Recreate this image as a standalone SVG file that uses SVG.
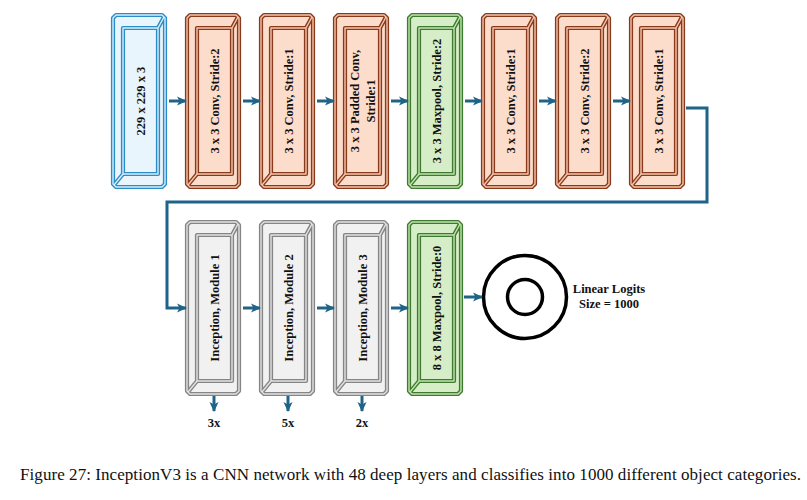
<svg xmlns="http://www.w3.org/2000/svg" xmlns:xlink="http://www.w3.org/1999/xlink" width="807" height="500" viewBox="0 0 807 500">
<style>
  .lbl{font-family:"Liberation Serif","Times New Roman",serif;font-weight:bold;font-size:12.5px;fill:#111;}
  .cap{font-family:"Liberation Serif","Times New Roman",serif;font-size:17px;fill:#111;}
  use.a{stroke-width:4.2;stroke-linejoin:round;}
  use.b{fill:none;stroke-width:1.4;stroke-linejoin:round;}
  .blue use.a{fill:#e9f5fc;stroke:#2c8cc7;}
  .blue use.b{stroke:#d6eefa;}
  .conv use.a{fill:#fcdccb;stroke:#8a3a1a;}
  .conv use.b{stroke:#f4c6ae;}
  .pool use.a{fill:#d6eec7;stroke:#3e7b30;}
  .pool use.b{stroke:#c2e3ae;}
  .inc use.a{fill:#f1f1f1;stroke:#858585;}
  .inc use.b{stroke:#e2e2e2;}
  .con{fill:none;stroke:#1f6389;stroke-width:3;}
</style>
<defs>
  <path id="fr" d="M3,0 H49 L52,3 V169 L49,172 H3 L0,169 V3 Z M10,13 H45 V159 H10 Z M45,13 L51,2 M10,159 L1,170"/>
  <marker id="ah" viewBox="0 0 10 10" refX="9" refY="5" markerWidth="10" markerHeight="10" markerUnits="userSpaceOnUse" orient="auto">
    <path d="M0,0.5 L10,5 L0,9.5 L2.5,5 Z" fill="#1f6389"/>
  </marker>
</defs>

<g id="n1" class="blue" transform="translate(113,15)"><use href="#fr" class="a"/><use href="#fr" class="b"/>
  <text class="lbl" transform="translate(28,86) rotate(-90)" text-anchor="middle" dominant-baseline="central">229 x 229 x 3</text></g>
<g id="n2" class="conv" transform="translate(187,15)"><use href="#fr" class="a"/><use href="#fr" class="b"/>
  <text class="lbl" transform="translate(28,86) rotate(-90)" text-anchor="middle" dominant-baseline="central">3 x 3 Conv, Stride:2</text></g>
<g id="n3" class="conv" transform="translate(261,15)"><use href="#fr" class="a"/><use href="#fr" class="b"/>
  <text class="lbl" transform="translate(28,86) rotate(-90)" text-anchor="middle" dominant-baseline="central">3 x 3 Conv, Stride:1</text></g>
<g id="n4" class="conv" transform="translate(335,15)"><use href="#fr" class="a"/><use href="#fr" class="b"/>
  <text class="lbl" transform="translate(28,86) rotate(-90)" text-anchor="middle" dominant-baseline="central"><tspan x="0" dy="-8">3 x 3 Padded Conv,</tspan><tspan x="0" dy="16">Stride:1</tspan></text></g>
<g id="n5" class="pool" transform="translate(409,15)"><use href="#fr" class="a"/><use href="#fr" class="b"/>
  <text class="lbl" transform="translate(28,86) rotate(-90)" text-anchor="middle" dominant-baseline="central">3 x 3 Maxpool, Stride:2</text></g>
<g id="n6" class="conv" transform="translate(483,15)"><use href="#fr" class="a"/><use href="#fr" class="b"/>
  <text class="lbl" transform="translate(28,86) rotate(-90)" text-anchor="middle" dominant-baseline="central">3 x 3 Conv, Stride:1</text></g>
<g id="n7" class="conv" transform="translate(557,15)"><use href="#fr" class="a"/><use href="#fr" class="b"/>
  <text class="lbl" transform="translate(28,86) rotate(-90)" text-anchor="middle" dominant-baseline="central">3 x 3 Conv, Stride:2</text></g>
<g id="n8" class="conv" transform="translate(631,15)"><use href="#fr" class="a"/><use href="#fr" class="b"/>
  <text class="lbl" transform="translate(28,86) rotate(-90)" text-anchor="middle" dominant-baseline="central">3 x 3 Conv, Stride:1</text></g>

<g id="n9" class="inc" transform="translate(187,222)"><use href="#fr" class="a"/><use href="#fr" class="b"/>
  <text class="lbl" transform="translate(28,86) rotate(-90)" text-anchor="middle" dominant-baseline="central">Inception, Module 1</text></g>
<g id="n10" class="inc" transform="translate(261,222)"><use href="#fr" class="a"/><use href="#fr" class="b"/>
  <text class="lbl" transform="translate(28,86) rotate(-90)" text-anchor="middle" dominant-baseline="central">Inception, Module 2</text></g>
<g id="n11" class="inc" transform="translate(335,222)"><use href="#fr" class="a"/><use href="#fr" class="b"/>
  <text class="lbl" transform="translate(28,86) rotate(-90)" text-anchor="middle" dominant-baseline="central">Inception, Module 3</text></g>
<g id="n12" class="pool" transform="translate(409,222)"><use href="#fr" class="a"/><use href="#fr" class="b"/>
  <text class="lbl" transform="translate(28,86) rotate(-90)" text-anchor="middle" dominant-baseline="central">8 x 8 Maxpool, Stride:0</text></g>

<g id="n13">
  <circle cx="525" cy="297" r="41.5" fill="#fff" stroke="#000" stroke-width="3.5"/>
  <circle cx="525" cy="297" r="17.5" fill="#fff" stroke="#000" stroke-width="3.5"/>
  <text class="lbl" x="609" y="293" text-anchor="middle">Linear Logits</text>
  <text class="lbl" x="609" y="308" text-anchor="middle">Size = 1000</text>
</g>

<g id="connectors">
  <line class="con" x1="169" y1="101" x2="186" y2="101" marker-end="url(#ah)"/>
  <line class="con" x1="243" y1="101" x2="260" y2="101" marker-end="url(#ah)"/>
  <line class="con" x1="317" y1="101" x2="334" y2="101" marker-end="url(#ah)"/>
  <line class="con" x1="391" y1="101" x2="408" y2="101" marker-end="url(#ah)"/>
  <line class="con" x1="465" y1="101" x2="482" y2="101" marker-end="url(#ah)"/>
  <line class="con" x1="539" y1="101" x2="556" y2="101" marker-end="url(#ah)"/>
  <line class="con" x1="613" y1="101" x2="630" y2="101" marker-end="url(#ah)"/>
  <path class="con" d="M686,108 H707 V202 H167 V308 H186" marker-end="url(#ah)"/>
  <line class="con" x1="243" y1="308" x2="260" y2="308" marker-end="url(#ah)"/>
  <line class="con" x1="317" y1="308" x2="334" y2="308" marker-end="url(#ah)"/>
  <line class="con" x1="391" y1="308" x2="408" y2="308" marker-end="url(#ah)"/>
  <line class="con" x1="464" y1="297" x2="482" y2="297" marker-end="url(#ah)"/>
  <line class="con" x1="214" y1="396" x2="214" y2="411" marker-end="url(#ah)"/>
  <line class="con" x1="288" y1="396" x2="288" y2="411" marker-end="url(#ah)"/>
  <line class="con" x1="362" y1="396" x2="362" y2="411" marker-end="url(#ah)"/>
</g>

<text class="lbl" x="214" y="427" text-anchor="middle">3x</text>
<text class="lbl" x="288" y="427" text-anchor="middle">5x</text>
<text class="lbl" x="362" y="427" text-anchor="middle">2x</text>

<text class="cap" x="410.5" y="480" text-anchor="middle" textLength="781">Figure 27: InceptionV3 is a CNN network with 48 deep layers and classifies into 1000 different object categories.</text>
</svg>
